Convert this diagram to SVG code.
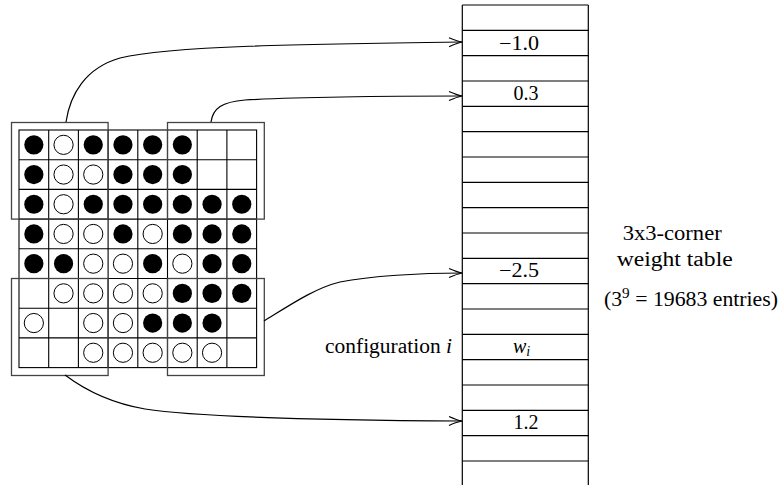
<svg xmlns="http://www.w3.org/2000/svg" width="780" height="485" viewBox="0 0 780 485">
<style>
.grid{fill:none;stroke:#000;stroke-width:1.1}
.box{fill:none;stroke:#444;stroke-width:1.3}
.b{fill:#000}
.w{fill:#fff;stroke:#000;stroke-width:1}
.tl{stroke:#000;stroke-width:1.2}
.conn{fill:none;stroke:#000;stroke-width:1.2}
.t{font-family:'Liberation Serif','Times New Roman',serif;font-size:20px;fill:#000}
.it{font-style:italic}
</style>
<defs>
<marker id="arr" markerUnits="userSpaceOnUse" markerWidth="16" markerHeight="12" viewBox="-14 -6 16 12" refX="0" refY="0" orient="auto">
<path d="M-13,-4.5 Q-5,-1 0,0 Q-5,1 -13,4.5" fill="none" stroke="#000" stroke-width="1.1"/>
</marker>
<circle id="bd" r="9.6" class="b"/>
<circle id="wd" r="9.6" class="w"/>
</defs>
<rect width="780" height="485" fill="#fff"/>

<g id="board">
<rect class="grid" x="19" y="130" width="237.6" height="237.6"/>
<path class="grid" d="M48.7,130V367.6M78.4,130V367.6M108.1,130V367.6M137.8,130V367.6M167.5,130V367.6M197.2,130V367.6M226.9,130V367.6M19,159.7H256.6M19,189.4H256.6M19,219.1H256.6M19,248.8H256.6M19,278.5H256.6M19,308.2H256.6M19,337.9H256.6"/>
<g transform="translate(33.85,144.85)">
<use href="#bd" x="0" y="0"/><use href="#wd" x="29.7" y="0"/><use href="#bd" x="59.4" y="0"/><use href="#bd" x="89.1" y="0"/><use href="#bd" x="118.8" y="0"/><use href="#bd" x="148.5" y="0"/>
<use href="#bd" x="0" y="29.7"/><use href="#wd" x="29.7" y="29.7"/><use href="#wd" x="59.4" y="29.7"/><use href="#bd" x="89.1" y="29.7"/><use href="#bd" x="118.8" y="29.7"/><use href="#bd" x="148.5" y="29.7"/>
<use href="#bd" x="0" y="59.4"/><use href="#wd" x="29.7" y="59.4"/><use href="#bd" x="59.4" y="59.4"/><use href="#bd" x="89.1" y="59.4"/><use href="#bd" x="118.8" y="59.4"/><use href="#bd" x="148.5" y="59.4"/><use href="#bd" x="178.2" y="59.4"/><use href="#bd" x="207.9" y="59.4"/>
<use href="#bd" x="0" y="89.1"/><use href="#wd" x="29.7" y="89.1"/><use href="#wd" x="59.4" y="89.1"/><use href="#bd" x="89.1" y="89.1"/><use href="#wd" x="118.8" y="89.1"/><use href="#bd" x="148.5" y="89.1"/><use href="#bd" x="178.2" y="89.1"/><use href="#bd" x="207.9" y="89.1"/>
<use href="#bd" x="0" y="118.8"/><use href="#bd" x="29.7" y="118.8"/><use href="#wd" x="59.4" y="118.8"/><use href="#wd" x="89.1" y="118.8"/><use href="#bd" x="118.8" y="118.8"/><use href="#wd" x="148.5" y="118.8"/><use href="#bd" x="178.2" y="118.8"/><use href="#bd" x="207.9" y="118.8"/>
<use href="#wd" x="29.7" y="148.5"/><use href="#wd" x="59.4" y="148.5"/><use href="#wd" x="89.1" y="148.5"/><use href="#wd" x="118.8" y="148.5"/><use href="#bd" x="148.5" y="148.5"/><use href="#bd" x="178.2" y="148.5"/><use href="#bd" x="207.9" y="148.5"/>
<use href="#wd" x="0" y="178.2"/><use href="#wd" x="59.4" y="178.2"/><use href="#wd" x="89.1" y="178.2"/><use href="#bd" x="118.8" y="178.2"/><use href="#bd" x="148.5" y="178.2"/><use href="#bd" x="178.2" y="178.2"/>
<use href="#wd" x="59.4" y="207.9"/><use href="#wd" x="89.1" y="207.9"/><use href="#wd" x="118.8" y="207.9"/><use href="#wd" x="148.5" y="207.9"/><use href="#wd" x="178.2" y="207.9"/>
</g>
</g>

<g id="corner-tl"><rect class="box" x="11.5" y="122.5" width="96.6" height="96.6"/></g>
<g id="corner-tr"><rect class="box" x="167.5" y="122.5" width="96.8" height="96.6"/></g>
<g id="corner-bl"><rect class="box" x="11.5" y="278.5" width="96.6" height="97"/></g>
<g id="corner-br"><rect class="box" x="167.5" y="278.5" width="96.8" height="97"/></g>

<g id="table" font-family="Liberation Serif, Times New Roman, serif">
<path class="tl" d="M462.3,5V485M588.3,5V485"/>
<path class="tl" d="M462.3,5H588.3M462.3,30.3H588.3M462.3,55.7H588.3M462.3,81H588.3M462.3,106.3H588.3M462.3,131.7H588.3M462.3,157H588.3M462.3,182.3H588.3M462.3,207.7H588.3M462.3,233H588.3M462.3,258.3H588.3M462.3,283.7H588.3M462.3,309H588.3M462.3,334.3H588.3M462.3,359.7H588.3M462.3,385H588.3M462.3,410.3H588.3M462.3,435.7H588.3M462.3,461H588.3"/>
<text class="t" x="539" y="50" text-anchor="end" textLength="40" lengthAdjust="spacingAndGlyphs">−1.0</text>
<text class="t" x="538.5" y="100" text-anchor="end">0.3</text>
<text class="t" x="539" y="276.5" text-anchor="end" textLength="40" lengthAdjust="spacingAndGlyphs">−2.5</text>
<text class="t it" x="513" y="353">w<tspan font-size="14" dy="3">i</tspan></text>
<text class="t" x="538.5" y="428.5" text-anchor="end">1.2</text>
</g>

<g id="labels" font-family="Liberation Serif, Times New Roman, serif">
<text class="t" x="622.7" y="240" textLength="99" lengthAdjust="spacingAndGlyphs">3x3-corner</text>
<text class="t" x="616.7" y="266" textLength="116" lengthAdjust="spacingAndGlyphs">weight table</text>
<text class="t" x="604" y="306" textLength="174" lengthAdjust="spacingAndGlyphs">(3<tspan font-size="14" dy="-8">9</tspan><tspan dy="8"> = 19683 entries)</tspan></text>
<text class="t" x="325" y="353" textLength="127" lengthAdjust="spacingAndGlyphs">configuration <tspan class="it">i</tspan></text>
</g>

<g id="connectors">
<path class="conn" marker-end="url(#arr)" d="M66,122 C70,95 85,68 120,58 C170,46 300,44 462,42"/>
<path class="conn" marker-end="url(#arr)" d="M211,122 C213,108 222,102 245,100 C300,97 400,96 462,96"/>
<path class="conn" marker-end="url(#arr)" d="M264,321 C290,305 315,288 340,282 C370,276 420,273 462,273"/>
<path class="conn" marker-end="url(#arr)" d="M65,375 C85,390 110,403 145,409 C190,416 300,420 462,421"/>
</g>
</svg>
